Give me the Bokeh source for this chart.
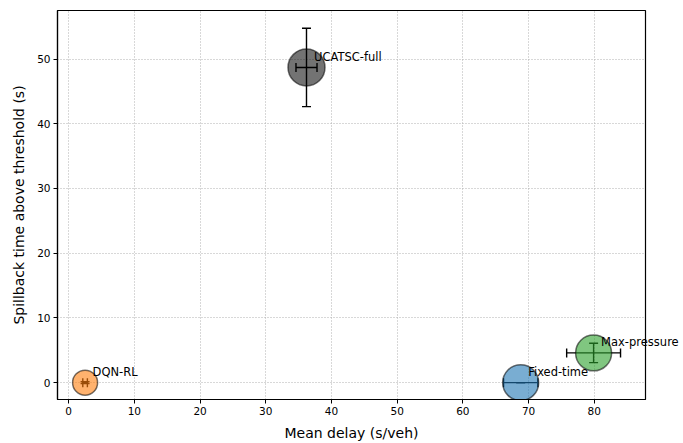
from bokeh.plotting import figure
from bokeh.models import ColumnDataSource, Whisker, TeeHead, Range1d, FixedTicker
from bokeh.models import HTMLLabelSet
from bokeh.core.properties import value
from bokeh.embed import file_html
from bokeh.resources import INLINE

# Data
methods = ["UCATSC-full", "DQN-RL", "Fixed-time", "Max-pressure"]
mean_delay = [36.2, 2.5, 68.8, 79.9]
delay_err = [1.6, 0.35, 2.6, 4.1]
spillback = [48.7, 0.0, 0.0, 4.6]
spillback_err = [6.05, 0.15, 0.0, 1.5]

# Styles
colors = ["#000000", "#ff7f0e", "#1f77b4", "#2ca02c"]
alphas = [0.55, 0.6, 0.6, 0.6]
marker_px = [37, 25, 36, 36]

src = ColumnDataSource(dict(
    x=mean_delay, y=spillback, name=methods, color=colors, size=marker_px, alpha=alphas,
    xl=[a - b for a, b in zip(mean_delay, delay_err)],
    xu=[a + b for a, b in zip(mean_delay, delay_err)],
    yl=[a - b for a, b in zip(spillback, spillback_err)],
    yu=[a + b for a, b in zip(spillback, spillback_err)],
))

FONT = "DejaVu Sans"

p = figure(width=683, height=443, output_backend="svg", toolbar_location=None,
           x_range=Range1d(-1.7, 87.8), y_range=Range1d(-2.6, 57.5),
           min_border_left=57, min_border_right=38, min_border_top=10, min_border_bottom=44)

p.background_fill_color = "white"
p.border_fill_color = "white"
p.outline_line_color = "black"
p.outline_line_width = 1.2

p.scatter("x", "y", source=src, size="size", fill_color="color", fill_alpha="alpha",
          line_color="black", line_alpha=0.55, line_width=1.5)

p.add_layout(Whisker(source=src, base="x", lower="yl", upper="yu", dimension="height",
                     line_color="black", line_width=1.4,
                     lower_head=TeeHead(size=9, line_color="black", line_width=1.4),
                     upper_head=TeeHead(size=9, line_color="black", line_width=1.4)))
p.add_layout(Whisker(source=src, base="y", lower="xl", upper="xu", dimension="width",
                     line_color="black", line_width=1.4,
                     lower_head=TeeHead(size=9, line_color="black", line_width=1.4),
                     upper_head=TeeHead(size=9, line_color="black", line_width=1.4)))

p.add_layout(HTMLLabelSet(x="x", y="y", text="name", source=src, x_offset=8, y_offset=10,
                          text_font=value(FONT), text_font_size=value("11.5px"),
                          text_color="black", text_baseline="alphabetic", text_align="left"))

p.xaxis.ticker = FixedTicker(ticks=[0, 10, 20, 30, 40, 50, 60, 70, 80])
p.yaxis.ticker = FixedTicker(ticks=[0, 10, 20, 30, 40, 50])
p.xaxis.axis_label = "Mean delay (s/veh)"
p.yaxis.axis_label = "Spillback time above threshold (s)"

for ax in (p.xaxis[0], p.yaxis[0]):
    ax.axis_label_text_font = FONT
    ax.axis_label_text_font_size = "14px"
    ax.axis_label_text_font_style = "normal"
    ax.axis_label_text_color = "black"
    ax.major_label_text_font = FONT
    ax.major_label_text_font_size = "10.5px"
    ax.major_label_text_color = "black"
    ax.axis_line_color = "black"
    ax.axis_line_width = 1.2
    ax.major_tick_line_color = "black"
    ax.major_tick_out = 4
    ax.major_tick_in = 0
    ax.minor_tick_line_color = None
    ax.major_label_standoff = 3
p.xaxis.axis_label_standoff = 7
p.yaxis.axis_label_standoff = 7

p.grid.grid_line_color = "#b0b0b0"
p.grid.grid_line_alpha = 1.0
p.grid.grid_line_dash = "1 2"
p.grid.grid_line_width = 1

open("out.html", "w").write(file_html(p, INLINE))
